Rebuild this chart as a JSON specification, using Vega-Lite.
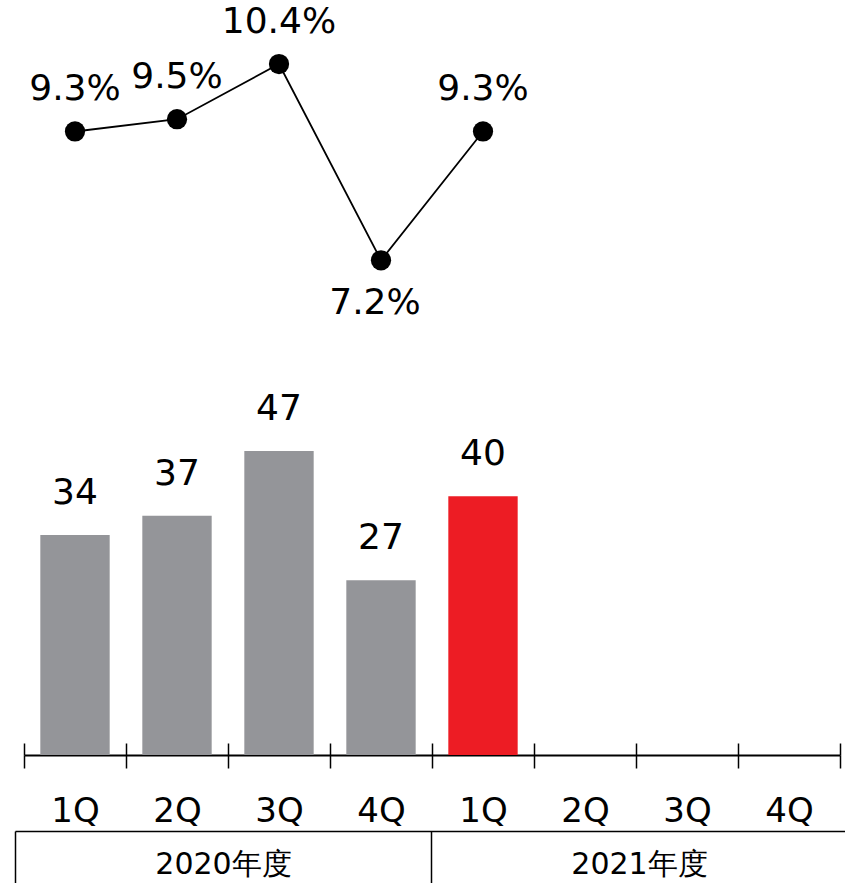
{
  "$schema": "https://vega.github.io/schema/vega-lite/v6.json",
  "width": 816,
  "height": 755,
  "autosize": {"type": "none"},
  "padding": {"left": 24, "top": 0, "right": 5, "bottom": 128},
  "config": {"view": {"stroke": null}, "font": "DejaVu Sans"},
  "datasets": {
    "bars": [
      {"period": "2020 1Q", "fy": "2020年度", "sales": 34},
      {"period": "2020 2Q", "fy": "2020年度", "sales": 37},
      {"period": "2020 3Q", "fy": "2020年度", "sales": 47},
      {"period": "2020 4Q", "fy": "2020年度", "sales": 27},
      {"period": "2021 1Q", "fy": "2021年度", "sales": 40}
    ],
    "margin": [
      {"period": "2020 1Q", "rate": 9.3, "label": "9.3%"},
      {"period": "2020 2Q", "rate": 9.5, "label": "9.5%"},
      {"period": "2020 3Q", "rate": 10.4, "label": "10.4%"},
      {"period": "2020 4Q", "rate": 7.2, "label": "7.2%"},
      {"period": "2021 1Q", "rate": 9.3, "label": "9.3%"}
    ],
    "years": [{"fy": "2020年度"}, {"fy": "2021年度"}]
  },
  "layer": [
    {
      "data": {"name": "bars"},
      "encoding": {
        "x": {
          "field": "period",
          "type": "nominal",
          "sort": null,
          "scale": {
            "domain": ["2020 1Q", "2020 2Q", "2020 3Q", "2020 4Q", "2021 1Q", "2021 2Q", "2021 3Q", "2021 4Q"],
            "paddingInner": 0,
            "paddingOuter": 0
          },
          "axis": {
            "orient": "bottom",
            "title": null,
            "domainColor": "black",
            "domainWidth": 2,
            "tickBand": "extent",
            "tickColor": "black",
            "tickWidth": 1.5,
            "tickSize": 13,
            "labelFontSize": 34,
            "labelColor": "black",
            "labelPadding": 26,
            "labelAngle": 0,
            "labelExpr": "split(datum.label, ' ')[1]"
          }
        },
        "y": {
          "field": "sales",
          "type": "quantitative",
          "scale": {"domain": [0, 116.7], "nice": false, "zero": true},
          "axis": null
        }
      },
      "layer": [
        {
          "mark": {"type": "bar", "width": {"band": 0.68}},
          "encoding": {
            "color": {
              "field": "fy",
              "type": "nominal",
              "scale": {"domain": ["2020年度", "2021年度"], "range": ["#949599", "#ED1C24"]},
              "legend": null
            }
          }
        },
        {
          "mark": {"type": "text", "dy": -31, "fontSize": 36, "baseline": "alphabetic", "color": "black"},
          "encoding": {"text": {"field": "sales", "type": "quantitative"}}
        }
      ]
    },
    {
      "data": {"name": "margin"},
      "encoding": {
        "x": {
          "field": "period",
          "type": "nominal",
          "sort": null,
          "scale": {
            "domain": ["2020 1Q", "2020 2Q", "2020 3Q", "2020 4Q", "2021 1Q", "2021 2Q", "2021 3Q", "2021 4Q"],
            "paddingInner": 0,
            "paddingOuter": 0
          },
          "axis": {
            "orient": "bottom",
            "title": null,
            "domain": false,
            "labels": false,
            "grid": false,
            "tickBand": "extent",
            "tickColor": "black",
            "tickWidth": 1.5,
            "tickSize": -12
          }
        },
        "y": {
          "field": "rate",
          "type": "quantitative",
          "scale": {"domain": [-0.867, 11.444], "nice": false, "zero": false},
          "axis": null
        }
      },
      "layer": [
        {"mark": {"type": "line", "color": "black", "strokeWidth": 1.8}},
        {"mark": {"type": "point", "filled": true, "color": "black", "opacity": 1, "size": 410}},
        {
          "transform": [{"filter": "datum.rate >= 8"}],
          "mark": {"type": "text", "dy": -31, "fontSize": 36, "baseline": "alphabetic", "color": "black"},
          "encoding": {"text": {"field": "label", "type": "nominal"}}
        },
        {
          "transform": [{"filter": "datum.rate < 8"}],
          "mark": {"type": "text", "dy": 54, "dx": -6, "fontSize": 36, "baseline": "alphabetic", "color": "black"},
          "encoding": {"text": {"field": "label", "type": "nominal"}}
        }
      ]
    },
    {
      "data": {"name": "years"},
      "mark": {"type": "text", "text": "", "opacity": 0},
      "encoding": {
        "x": {
          "field": "fy",
          "type": "nominal",
          "sort": null,
          "scale": {
            "domain": ["2020年度", "2021年度"],
            "range": [-9, 823],
            "paddingInner": 0,
            "paddingOuter": 0
          },
          "axis": {
            "orient": "bottom",
            "offset": 76,
            "title": null,
            "domainColor": "black",
            "domainWidth": 1.5,
            "tickBand": "extent",
            "tickColor": "black",
            "tickWidth": 1.5,
            "tickSize": 60,
            "labelFontSize": 30,
            "labelColor": "black",
            "labelPadding": -42,
            "labelAngle": 0,
            "labelFont": "DejaVu Sans"
          }
        }
      }
    }
  ],
  "resolve": {"scale": {"x": "independent", "y": "independent", "color": "independent"}}
}
